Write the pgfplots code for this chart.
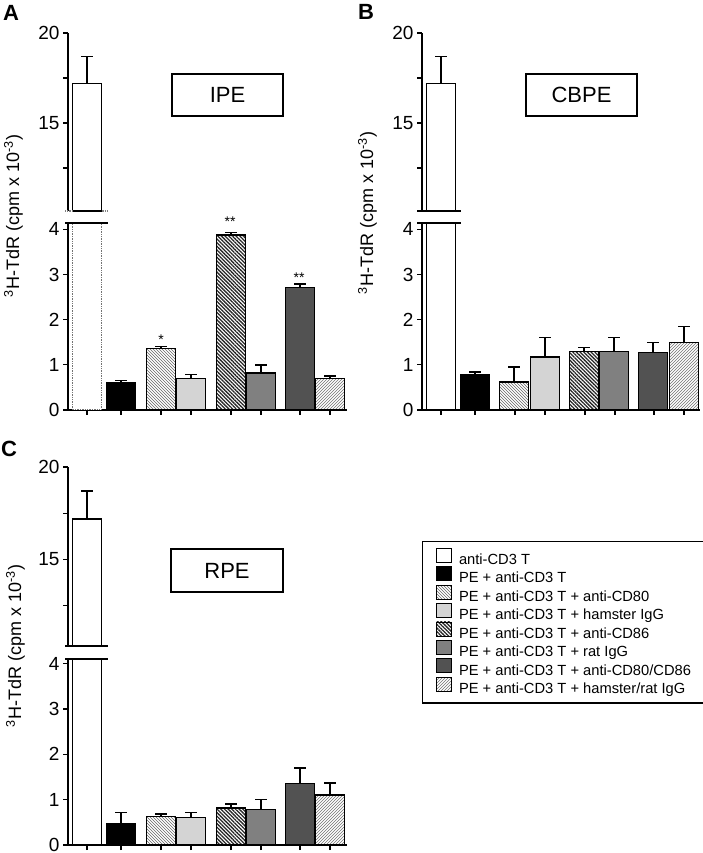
\documentclass[border=0pt]{standalone}
\usepackage{fontspec}
\setmainfont{Liberation Sans}
\usepackage{pgfplots}
\pgfplotsset{compat=1.18}
\usetikzlibrary{patterns,patterns.meta}

\pgfplotsset{
  panel/.style={scale only axis, clip mode=individual, xmin=0, xmax=279,
    axis line style={line width=1.4pt,-,black}, tick style={line width=1.3pt,black},
    major tick length=5pt, tick align=outside,
    ticklabel style={font=\fontsize{19}{19}\selectfont},
    /pgf/number format/assume math mode=true},
  lowpanel/.style={panel, axis x line*=bottom, axis y line*=left, ymin=0, ymax=4.14,
    ytick={0,1,2,3,4}, xtick={19,53,93,123,163,193,232,262}, xticklabels={}},
  uppanel/.style={panel, axis y line*=left, axis x line=none, ymin=10.11, ymax=20,
    ytick={15,20}, extra y ticks={12.5,17.5}, extra y tick labels={}},
  bar/.style={ybar, bar width=29, draw=black, line width=1.4pt},
  eb/.style={error bars/.cd, y dir=plus, y explicit,
    error bar style={line width=1.4pt, black, solid},
    error mark options={rotate=90, line width=1.4pt, black, solid, mark size=6pt}},
  s1/.style={bar, fill=white},
  s2/.style={bar, fill=black},
  s3/.style={bar, pattern=north west lines, pattern color=black!60},
  s4/.style={bar, fill=black!17},
  s5/.style={bar, pattern={Lines[angle=-45,distance=2.6pt,line width=1.3pt]}, pattern color=black!85},
  s6/.style={bar, fill=black!50},
  s7/.style={bar, fill=black!68},
  s8/.style={bar, fill=white, postaction={pattern=north east lines, pattern color=black!55}},
}

\begin{document}
\begin{tikzpicture}
\useasboundingbox (0pt,0pt) rectangle (702pt,853pt);

% ---------- Panel A ----------
\begin{axis}[uppanel, at={(68pt,642pt)}, anchor=south west, width=279pt, height=178pt]
\addplot[s1, eb] coordinates {(19,17.2) +- (0,1.5)};
\draw[line width=1.2pt, densely dotted, black!50] (axis cs:-3,10.11) -- (axis cs:40,10.11);
\draw[line width=1.4pt] (axis cs:4.5,10.11) -- (axis cs:33.5,10.11);
\end{axis}
\begin{axis}[lowpanel, at={(68pt,443pt)}, anchor=south west, width=279pt, height=187pt]
\addplot[s1, densely dotted, draw=black!55] coordinates {(19,17.2)};
\addplot[s2, eb] coordinates {(53,0.60) +- (0,0.05)};
\addplot[s3, eb] coordinates {(93,1.36) +- (0,0.05)};
\addplot[s4, eb] coordinates {(123,0.70) +- (0,0.08)};
\addplot[s5, eb] coordinates {(163,3.87) +- (0,0.06)};
\addplot[s6, eb] coordinates {(193,0.82) +- (0,0.18)};
\addplot[s7, eb] coordinates {(232,2.71) +- (0,0.08)};
\addplot[s8, eb] coordinates {(262,0.70) +- (0,0.05)};
\draw[line width=1.4pt] (axis cs:-3,4.14) -- (axis cs:40,4.14);
\node[font=\fontsize{14}{14}\selectfont] at (axis cs:93,1.55) {*};
\node[font=\fontsize{14}{14}\selectfont] at (axis cs:162,4.17) {**};
\node[font=\fontsize{14}{14}\selectfont] at (axis cs:231,2.94) {**};
\end{axis}

% ---------- Panel B ----------
\begin{axis}[uppanel, at={(422pt,642pt)}, anchor=south west, width=278pt, height=178pt, xmax=278]
\addplot[s1, eb] coordinates {(19,17.2) +- (0,1.5)};
\draw[line width=1.6pt] (axis cs:-5,10.11) -- (axis cs:39,10.11);
\end{axis}
\begin{axis}[lowpanel, at={(422pt,443pt)}, anchor=south west, width=278pt, height=187pt, xmax=278]
\addplot[s1] coordinates {(19,17.2)};
\addplot[s2, eb] coordinates {(53,0.78) +- (0,0.06)};
\addplot[s3, eb] coordinates {(92,0.62) +- (0,0.33)};
\addplot[s4, eb] coordinates {(123,1.17) +- (0,0.43)};
\addplot[s5, eb] coordinates {(162,1.30) +- (0,0.09)};
\addplot[s6, eb] coordinates {(192,1.30) +- (0,0.30)};
\addplot[s7, eb] coordinates {(231,1.27) +- (0,0.23)};
\addplot[s8, eb] coordinates {(262,1.49) +- (0,0.36)};
\draw[line width=1.6pt] (axis cs:-5,4.14) -- (axis cs:39,4.14);
\end{axis}

% ---------- Panel C ----------
\begin{axis}[uppanel, at={(68pt,207pt)}, anchor=south west, width=279pt, height=179pt, ymin=10.33]
\addplot[s1, eb] coordinates {(19,17.2) +- (0,1.5)};
\draw[line width=1.6pt] (axis cs:-3,10.33) -- (axis cs:40,10.33);
\end{axis}
\begin{axis}[lowpanel, at={(68pt,8pt)}, anchor=south west, width=279pt, height=186pt, ymax=4.1,
  legend style={at={(axis description cs:1.2688,1.634)}, anchor=north west, draw=black,
    line width=1.4pt, fill=white, font=\fontsize{14.7}{14.7}\selectfont,
    inner xsep=13pt, inner ysep=6pt, row sep=-1.7pt, column sep=5.5pt,
    cells={anchor=west, inner sep=0pt, text height=12pt, text depth=5pt}},
  legend image code/.code={\draw[#1, line width=0.8pt] (0pt,-3pt) rectangle (15pt,11pt);}]
\addplot[s1] coordinates {(19,17.2)};
\addlegendentry{anti-CD3 T}
\addplot[s2, eb] coordinates {(53,0.465) +- (0,0.25)};
\addlegendentry{PE + anti-CD3 T}
\addplot[s3, eb] coordinates {(93,0.63) +- (0,0.05)};
\addlegendentry{PE + anti-CD3 T + anti-CD80}
\addplot[s4, eb] coordinates {(123,0.60) +- (0,0.11)};
\addlegendentry{PE + anti-CD3 T + hamster IgG}
\addplot[s5, eb] coordinates {(163,0.82) +- (0,0.08)};
\addlegendentry{PE + anti-CD3 T + anti-CD86}
\addplot[s6, eb] coordinates {(193,0.78) +- (0,0.22)};
\addlegendentry{PE + anti-CD3 T + rat IgG}
\addplot[s7, eb] coordinates {(232,1.36) +- (0,0.34)};
\addlegendentry{PE + anti-CD3 T + anti-CD80/CD86}
\addplot[s8, eb] coordinates {(262,1.10) +- (0,0.27)};
\addlegendentry{PE + anti-CD3 T + hamster/rat IgG}
\draw[line width=1.6pt] (axis cs:-3,4.1) -- (axis cs:40,4.1);
\end{axis}

% ---------- labels ----------
\node[font=\fontsize{22}{22}\selectfont\bfseries] at (11pt,840pt) {A};
\node[font=\fontsize{22}{22}\selectfont\bfseries] at (366pt,841.5pt) {B};
\node[font=\fontsize{22}{22}\selectfont\bfseries] at (9pt,404.5pt) {C};

\node[rotate=90, font=\fontsize{18}{18}\selectfont] at (13.5pt,637pt) {\textsuperscript{3}H-TdR (cpm x 10\textsuperscript{-3})};
\node[rotate=90, font=\fontsize{18}{18}\selectfont] at (367.5pt,640pt) {\textsuperscript{3}H-TdR (cpm x 10\textsuperscript{-3})};
\node[rotate=90, font=\fontsize{18}{18}\selectfont] at (15.5pt,207pt) {\textsuperscript{3}H-TdR (cpm x 10\textsuperscript{-3})};

\node[draw, line width=1.4pt, minimum width=111pt, minimum height=42pt, font=\fontsize{22}{22}\selectfont] at (227.5pt,758pt) {IPE};
\node[draw, line width=1.4pt, minimum width=111pt, minimum height=42pt, font=\fontsize{22}{22}\selectfont] at (581.5pt,758pt) {CBPE};
\node[draw, line width=1.4pt, minimum width=112pt, minimum height=43pt, font=\fontsize{22}{22}\selectfont] at (227pt,282.5pt) {RPE};
\end{tikzpicture}
\end{document}
